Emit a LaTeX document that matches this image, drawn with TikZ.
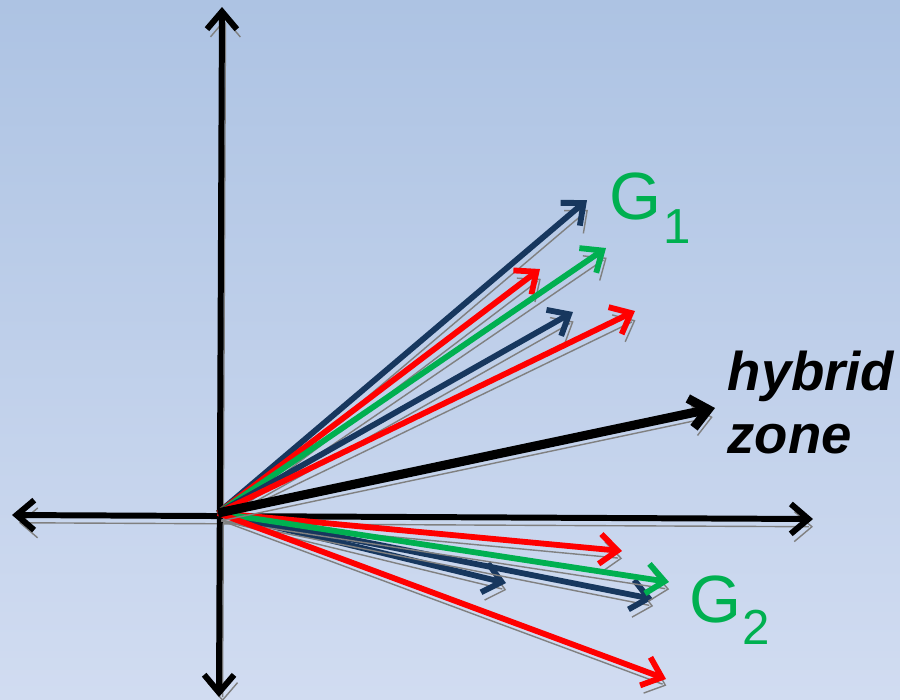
\documentclass[tikz,border=0pt]{standalone}
\usepackage{fontspec}
\setmainfont{Liberation Sans}
\usetikzlibrary{arrows.meta}
\definecolor{navyv}{HTML}{17375E}
\definecolor{greenv}{HTML}{00B050}
\definecolor{redv}{HTML}{FF0000}
\definecolor{bgtop}{HTML}{ADC3E3}
\definecolor{bgbot}{HTML}{D1DCF1}

\begin{document}
\begin{tikzpicture}[x=0.01cm, y=-0.01cm,
  shadowed/.style={preaction={draw=black!50, transform canvas={shift={(1pt,-2.2pt)}}}},
  axis/.style={{Straight Barb[length=5pt,width=8.5pt]}-{Straight Barb[length=5pt,width=8.5pt]},
    line width=1.7pt, black, shadowed},
  vec/.style={-{Straight Barb[length=5pt,width=8.5pt]}, line width=1.65pt, shadowed},
  glabel/.style={text=greenv, font=\fontsize{19pt}{19pt}\selectfont, anchor=base west, inner sep=0pt}
]
% background
\clip (0,0) rectangle (900,699);
\fill[top color=bgtop, bottom color=bgbot] (0,0) rectangle (900,699);

% axes
\coordinate (xl) at (12,515);
\coordinate (xr) at (813,519);
\coordinate (yt) at (222,7);
\coordinate (yb) at (219,697);
\draw[axis] (xl) -- (xr);
\draw[axis] (yt) -- (yb);

% vectors from the origin
\coordinate (o) at (218,513);
\coordinate (b1) at (587,200);
\coordinate (r1) at (540,269);
\coordinate (g1) at (606,248);
\coordinate (b2) at (573,312);
\coordinate (r2) at (635,311);
\coordinate (r3) at (622,551);
\coordinate (g2) at (669,582);
\coordinate (b4) at (506,583);
\coordinate (b3) at (653,599);
\coordinate (r4) at (666,679);
\coordinate (hz) at (715,408);
\foreach \p/\c in {b1/navyv, r1/redv, g1/greenv, b2/navyv, r2/redv,
  r3/redv, b4/navyv, b3/navyv, g2/greenv, r4/redv}
  \draw[vec, \c] (o) -- (\p);
\draw[vec, black, line width=2.6pt] (o) -- (hz);

% labels
\node[glabel] (g1lab) at (609,219) {G\raisebox{-0.24cm}{\hspace{0.02cm}\fontsize{14pt}{14pt}\selectfont 1}};
\node[glabel] (g2lab) at (689,622) {G\raisebox{-0.22cm}{\hspace{0.01cm}\fontsize{14pt}{14pt}\selectfont 2}};
\node[anchor=north west, align=left, inner sep=0pt,
  font=\fontsize{15.5pt}{18pt}\selectfont\bfseries\itshape] (hyb) at (727,350) {hybrid\\zone};
\end{tikzpicture}
\end{document}
